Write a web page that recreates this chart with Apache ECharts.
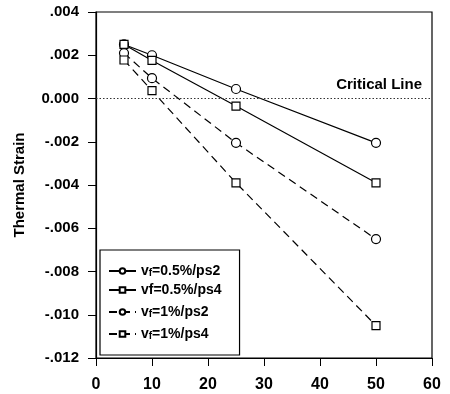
<!DOCTYPE html>
<html><head><meta charset="utf-8">
<script src="https://cdn.jsdelivr.net/npm/echarts@6/dist/echarts.min.js"></script>
<style>html,body{margin:0;padding:0;background:#fff}#c{width:450px;height:394px}</style>
</head><body><div id="c"></div>
<script>
const xValues = [5, 10, 25, 50];
const s1 = [0.0025, 0.0020, 0.00044, -0.00205];   // vf=0.5%/ps2
const s2 = [0.0025, 0.00176, -0.00035, -0.0039];  // vf=0.5%/ps4
const s3 = [0.0021, 0.00094, -0.00205, -0.0065];  // vf=1%/ps2
const s4 = [0.00178, 0.00036, -0.0039, -0.0105];  // vf=1%/ps4
const seriesNames = ['vf=0.5%/ps2', 'vf=0.5%/ps4', 'vf=1%/ps2', 'vf=1%/ps4'];
const legendLabels = ['v{s|f}=0.5%/ps2', 'vf=0.5%/ps4', 'v{s|f}=1%/ps2', 'v{s|f}=1%/ps4'];
const yTitle = 'Thermal Strain';
const criticalLabel = 'Critical Line';
const criticalValue = 0;

const FONT = '"Liberation Sans", Arial, sans-serif';
function pairs(arr){ return xValues.map((x,i)=>[x, arr[i]]); }
function mk(name, arr, symbol, dashed, extra){
  return Object.assign({
    name, type:'line', data: pairs(arr), symbol, symbolSize: symbol==='rect' ? 8 : 9,
    itemStyle:{color:'#fff', borderColor:'#000', borderWidth:1.2},
    lineStyle:{color:'#000', width:1.2, type: dashed ? [8,5] : 'solid'},
    z: 3
  }, extra||{});
}
const chart = echarts.init(document.getElementById('c'), null, {renderer:'canvas'});
chart.setOption({
  animation:false,
  backgroundColor:'#fff',
  grid:{left:96, right:18, top:12, bottom:36, show:true, borderColor:'#000', borderWidth:1.2, backgroundColor:'transparent'},
  xAxis:{type:'value', min:0, max:60, interval:10,
    axisLine:{show:true, onZero:false, lineStyle:{color:'#000', width:1.2}},
    axisTick:{show:true, inside:false, length:8, lineStyle:{color:'#000'}},
    splitLine:{show:false},
    axisLabel:{color:'#000', fontFamily:FONT, fontWeight:'bold', fontSize:16, margin:19}},
  yAxis:{type:'value', min:-0.012, max:0.004, interval:0.002,
    axisLine:{show:true, lineStyle:{color:'#000', width:1.2}},
    axisTick:{show:true, inside:false, length:8, lineStyle:{color:'#000'}},
    splitLine:{show:false},
    axisLabel:{color:'#000', fontFamily:FONT, fontWeight:'bold', fontSize:15, margin:17,
      formatter: v => { if (Math.abs(v) < 1e-12) return '0.000'; let s = v.toFixed(3); return s.replace('0.', '.'); }}},
  legend:{
    data: seriesNames, orient:'vertical', left:100, top:250,
    itemWidth:27, itemHeight:7, itemGap:5,
    padding:[11, 18, 14, 8],
    borderColor:'#000', borderWidth:1.2, backgroundColor:'#fff', borderRadius:0,
    formatter: n => legendLabels[seriesNames.indexOf(n)],
    textStyle:{color:'#000', fontFamily:FONT, fontWeight:'bold', fontSize:14, lineHeight:14,
      rich:{s:{fontFamily:FONT, fontWeight:'bold', fontSize:10, lineHeight:14, verticalAlign:'bottom', padding:[7,0,0,0]}}}
  },
  graphic:[{
    type:'text', x:20, y:185, rotation:Math.PI/2,
    style:{text:yTitle, fill:'#000', font:'bold 15px "Liberation Sans", Arial, sans-serif', align:'center', verticalAlign:'middle'}
  }],
  series:[
    mk(seriesNames[0], s1, 'circle', false, {
      markLine:{silent:true, symbol:['none','none'],
        lineStyle:{color:'#333', type:[1.5,2], width:1},
        label:{show:true, position:'insideEndTop', formatter:criticalLabel, color:'#000', fontFamily:FONT, fontWeight:'bold', fontSize:15, distance:[10,6]},
        data:[{yAxis: criticalValue}]}
    }),
    mk(seriesNames[1], s2, 'rect', false),
    mk(seriesNames[2], s3, 'circle', true),
    mk(seriesNames[3], s4, 'rect', true)
  ]
});
</script></body></html>
